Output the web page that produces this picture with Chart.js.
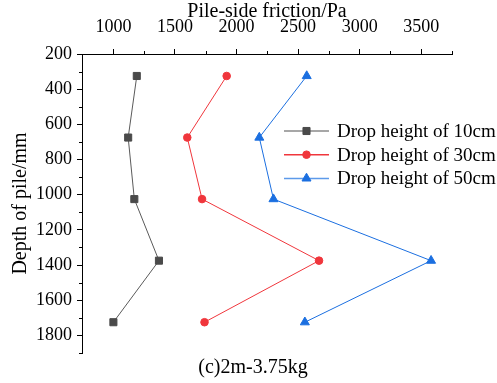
<!DOCTYPE html>
<html>
<head>
<meta charset="utf-8">
<script src="https://cdn.jsdelivr.net/npm/chart.js@4"></script>
<style>
  body { margin: 0; background: #fff; }
  canvas { display: block; }
</style>
</head>
<body>
<canvas id="frictionChart" width="497" height="383"></canvas>
<script>
// depth of the measuring points along the pile (mm)
const depths = [325, 675, 1025, 1375, 1725];
// pile-side friction (Pa) for each drop height
const drop10 = [1190, 1120, 1170, 1370, 1000];
const drop30 = [1920, 1600, 1720, 2670, 1740];
const drop50 = [2570, 2185, 2300, 3580, 2555];
const seriesLabels = ['Drop height of 10cm', 'Drop height of 30cm', 'Drop height of 50cm'];
const xTicks = [1000, 1500, 2000, 2500, 3000, 3500];
const yTicks = [200, 400, 600, 800, 1000, 1200, 1400, 1600, 1800];
const caption = '(c)2m-3.75kg';

const serif = '"Liberation Serif", "Times New Roman", serif';

function toPoints(values) {
    return values.map((v, i) => ({ x: v, y: depths[i] }));
}

// small ticks between the labelled ones
const minorTicks = {
    id: 'minorTicks',
    afterDraw(chart) {
        const ctx = chart.ctx;
        const x = chart.scales.x, y = chart.scales.y;
        const area = chart.chartArea;
        ctx.save();
        ctx.strokeStyle = '#000';
        ctx.lineWidth = 1;
        ctx.beginPath();
        for (let v = xTicks[0] + 250; v <= x.max; v += 500) {
            const px = Math.round(x.getPixelForValue(v)) + 0.5;
            ctx.moveTo(px, area.top);
            ctx.lineTo(px, area.top - 3);
        }
        for (let v = yTicks[0] + 100; v <= y.max; v += 200) {
            const py = Math.round(y.getPixelForValue(v)) + 0.5;
            ctx.moveTo(area.left, py);
            ctx.lineTo(area.left - 3, py);
        }
        ctx.stroke();
        ctx.restore();
    }
};

// legend drawn inside the plot, next to the 50cm curve, plus the caption below
const innerLegend = {
    id: 'innerLegend',
    afterDraw(chart) {
        const ctx = chart.ctx;
        const left = 284, top = 131, rowGap = 23.7, lineLen = 45;
        ctx.save();
        chart.data.datasets.forEach((ds, i) => {
            const yy = top + i * rowGap;
            ctx.strokeStyle = ds.legendLine;
            ctx.lineWidth = 1.5;
            ctx.beginPath();
            ctx.moveTo(left, yy);
            ctx.lineTo(left + lineLen, yy);
            ctx.stroke();
            ctx.fillStyle = ds.pointBackgroundColor;
            ctx.strokeStyle = ds.pointBorderColor;
            ctx.lineWidth = 1;
            Chart.helpers.drawPoint(ctx, {
                pointStyle: ds.pointStyle,
                radius: ds.pointRadius,
                borderWidth: 1,
                rotation: 0
            }, left + lineLen / 2, yy);
            ctx.fillStyle = '#000';
            ctx.font = '19px ' + serif;
            ctx.textBaseline = 'middle';
            ctx.textAlign = 'left';
            ctx.fillText(ds.label, left + lineLen + 8, yy + 1);
        });
        ctx.font = '20px ' + serif;
        ctx.textAlign = 'center';
        ctx.textBaseline = 'middle';
        ctx.fillText(caption, 253, chart.chartArea.bottom + 15);
        ctx.restore();
    }
};

const ctxFriction = document.getElementById('frictionChart').getContext('2d');
const frictionChart = new Chart(ctxFriction, {
    type: 'scatter',
    data: {
        datasets: [{
            label: seriesLabels[0],
            data: toPoints(drop10),
            borderColor: '#5a5a5a',
            legendLine: '#8a8a8a',
            pointBackgroundColor: '#4a4a4a',
            pointBorderColor: '#4a4a4a',
            pointStyle: 'rect',
            pointRadius: 5
        }, {
            label: seriesLabels[1],
            data: toPoints(drop30),
            borderColor: '#f0363c',
            legendLine: '#f0363c',
            pointBackgroundColor: '#f0363c',
            pointBorderColor: '#f0363c',
            pointStyle: 'circle',
            pointRadius: 3.8
        }, {
            label: seriesLabels[2],
            data: toPoints(drop50),
            borderColor: '#1b6fe0',
            legendLine: '#5d9aea',
            pointBackgroundColor: '#1b6fe0',
            pointBorderColor: '#1b6fe0',
            pointStyle: 'triangle',
            pointRadius: 5.2
        }].map(ds => Object.assign(ds, {
            showLine: true,
            borderWidth: 1,
            tension: 0,
            fill: false,
            pointBorderWidth: 1,
            pointHoverRadius: ds.pointRadius
        }))
    },
    options: {
        responsive: false,
        animation: false,
        devicePixelRatio: 1,
        layout: { padding: { left: 0, right: 45, top: 0, bottom: 30 } },
        plugins: {
            legend: { display: false },
            tooltip: { enabled: false }
        },
        scales: {
            x: {
                type: 'linear',
                position: 'top',
                min: 745,
                max: 3750,
                afterBuildTicks: axis => {
                    axis.ticks = xTicks.map(v => ({ value: v }));
                },
                afterFit: scale => { scale.height = 54; },
                grid: { drawOnChartArea: false, tickLength: 5, color: '#000' },
                border: { color: '#000', width: 1 },
                ticks: {
                    color: '#000', padding: 11, maxRotation: 0,
                    font: { family: serif, size: 18 },
                    callback: v => String(v)
                },
                title: {
                    display: true,
                    text: 'Pile-side friction/Pa',
                    color: '#000',
                    font: { family: serif, size: 20 },
                    padding: { top: 0, bottom: 5 }
                }
            },
            y: {
                type: 'linear',
                reverse: true,
                min: 200,
                max: 1900,
                afterBuildTicks: axis => {
                    axis.ticks = yTicks.map(v => ({ value: v }));
                },
                afterFit: scale => { scale.width = 82; },
                grid: { drawOnChartArea: false, tickLength: 5, color: '#000' },
                border: { color: '#000', width: 1 },
                ticks: {
                    color: '#000', padding: 5,
                    font: { family: serif, size: 18 },
                    callback: v => String(v)
                },
                title: {
                    display: true,
                    text: 'Depth of pile/mm',
                    color: '#000',
                    font: { family: serif, size: 20 },
                    padding: { top: 9, bottom: 0 }
                }
            }
        }
    },
    plugins: [minorTicks, innerLegend]
});
</script>
</body>
</html>
